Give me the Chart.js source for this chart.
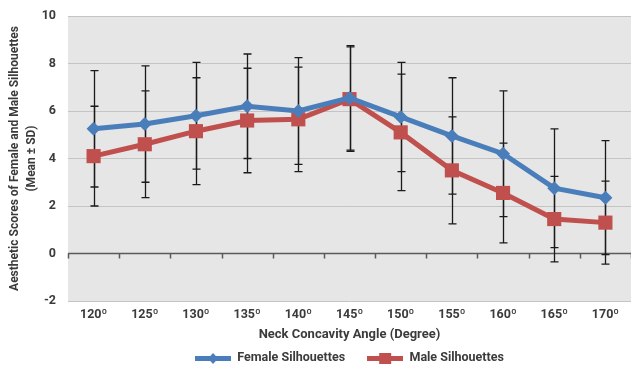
<!DOCTYPE html>
<html>
<head>
<meta charset="utf-8">
<script src="https://cdn.jsdelivr.net/npm/chart.js@4"></script>
<style>
  body { margin: 0; background: #fff; }
  #wrap { width: 631px; height: 366px; }
</style>
</head>
<body>
<div id="wrap"><canvas id="neckChart" width="631" height="366"></canvas></div>
<script>
// Data
const angles = ['120º', '125º', '130º', '135º', '140º', '145º', '150º', '155º', '160º', '165º', '170º'];
const femaleMean = [5.25, 5.45, 5.8, 6.2, 6.0, 6.55, 5.75, 4.95, 4.2, 2.75, 2.35];
const femaleSD = [2.45, 2.45, 2.25, 2.2, 2.25, 2.2, 2.3, 2.45, 2.65, 2.5, 2.4];
const maleMean = [4.1, 4.6, 5.15, 5.6, 5.65, 6.5, 5.1, 3.5, 2.55, 1.45, 1.3];
const maleSD = [2.1, 2.25, 2.25, 2.2, 2.2, 2.2, 2.45, 2.25, 2.1, 1.8, 1.75];
const yTicks = [-2, 0, 2, 4, 6, 8, 10];

const blue = '#4a7ebb';
const red = '#c0504d';
const textColor = '#3b3b3b';
const fontFamily = 'Roboto, "Open Sans", sans-serif';

// little line + marker images for the legend
function legendIcon(color, shape) {
    const c = document.createElement('canvas');
    c.width = 36;
    c.height = 14;
    const g = c.getContext('2d');
    g.fillStyle = color;
    g.fillRect(0, 5, 36, 5);
    if (shape === 'diamond') {
        g.beginPath();
        g.moveTo(18, 2);
        g.lineTo(23, 7.5);
        g.lineTo(18, 13);
        g.lineTo(13, 7.5);
        g.closePath();
        g.fill();
    } else {
        g.fillRect(12, 2, 12, 11);
    }
    return c;
}
const femaleIcon = legendIcon(blue, 'diamond');
const maleIcon = legendIcon(red, 'square');

// plot background, zero axis and error bars
const plotDecor = {
    id: 'plotDecor',
    beforeDraw(chart) {
        const { ctx, chartArea } = chart;
        ctx.save();
        ctx.fillStyle = '#e6e6e6';
        ctx.fillRect(chartArea.left, chartArea.top, chartArea.right - chartArea.left, chartArea.bottom - chartArea.top);
        ctx.restore();
    },
    beforeDatasetsDraw(chart) {
        const { ctx, chartArea, scales } = chart;
        const x = scales.x;
        const y = scales.y;
        const y0 = y.getPixelForValue(0);
        ctx.save();
        // zero line with category tick marks
        ctx.strokeStyle = '#5a5a5a';
        ctx.lineWidth = 1.5;
        ctx.beginPath();
        ctx.moveTo(chartArea.left, y0);
        ctx.lineTo(chartArea.right, y0);
        const band = (x.getPixelForValue(1) - x.getPixelForValue(0));
        for (let i = 0; i <= angles.length; i++) {
            const px = Math.round(x.getPixelForValue(0) - band / 2 + i * band) + 0.5;
            ctx.moveTo(px, y0);
            ctx.lineTo(px, y0 + 5);
        }
        ctx.stroke();

        // error bars (mean ± SD)
        ctx.strokeStyle = '#1a1a1a';
        ctx.lineWidth = 1.3;
        const groups = [[femaleMean, femaleSD], [maleMean, maleSD]];
        groups.forEach(([means, sds]) => {
            means.forEach((m, i) => {
                const px = Math.round(x.getPixelForValue(i)) + 0.5;
                const top = y.getPixelForValue(m + sds[i]);
                const bot = y.getPixelForValue(m - sds[i]);
                ctx.beginPath();
                ctx.moveTo(px, top);
                ctx.lineTo(px, bot);
                ctx.moveTo(px - 4, top);
                ctx.lineTo(px + 4, top);
                ctx.moveTo(px - 4, bot);
                ctx.lineTo(px + 4, bot);
                ctx.stroke();
            });
        });
        ctx.restore();
    }
};

const ctx = document.getElementById('neckChart').getContext('2d');

const neckChart = new Chart(ctx, {
    type: 'line',
    data: {
        labels: angles,
        datasets: [{
            label: 'Female Silhouettes',
            data: femaleMean,
            borderColor: blue,
            backgroundColor: blue,
            borderWidth: 5,
            pointStyle: 'rectRot',
            pointRadius: 7,
            pointBorderWidth: 0,
            tension: 0
        }, {
            label: 'Male Silhouettes',
            data: maleMean,
            borderColor: red,
            backgroundColor: red,
            borderWidth: 5,
            pointStyle: 'rect',
            pointRadius: 10,
            pointBorderWidth: 0,
            tension: 0
        }]
    },
    options: {
        responsive: false,
        animation: false,
        layout: {
            // no extra room for the markers, the plot runs to the right edge
            autoPadding: false,
            // negative bottom pushes the legend's empty padding off the canvas
            padding: { top: 16, right: 0, left: 0, bottom: -8.25 }
        },
        scales: {
            x: {
                offset: true,
                grid: { display: false },
                border: { display: false },
                ticks: {
                    color: textColor,
                    padding: -2,
                    maxRotation: 0,
                    font: { family: fontFamily, size: 12.5, weight: 'bold' }
                },
                title: {
                    display: true,
                    text: 'Neck Concavity Angle (Degree)',
                    color: textColor,
                    padding: { top: 0, bottom: -12.75 },
                    font: { family: fontFamily, size: 13, weight: 'bold', lineHeight: 1.15 }
                },
                afterFit(scale) {
                    scale.height = 28.75;
                    scale.paddingLeft = 0;
                    scale.paddingRight = 0;
                }
            },
            y: {
                min: -2,
                max: 10,
                afterBuildTicks(scale) {
                    scale.ticks = yTicks.map(v => ({ value: v }));
                },
                grid: {
                    color: '#c4c4c4',
                    lineWidth: 1,
                    drawTicks: false
                },
                border: { display: false },
                ticks: {
                    color: textColor,
                    padding: 12,
                    font: { family: fontFamily, size: 12.5, weight: 'bold' }
                },
                title: {
                    display: true,
                    text: ['Aesthetic Scores of Female and Male Silhouettes', '(Mean ± SD)'],
                    color: textColor,
                    padding: { top: 6, bottom: 0 },
                    font: { family: fontFamily, size: 12, weight: 'bold', lineHeight: 1.45 }
                },
                afterFit(scale) {
                    scale.width = 68;
                    scale.paddingTop = 0;
                    scale.paddingBottom = 0;
                }
            }
        },
        plugins: {
            legend: {
                position: 'bottom',
                fullSize: false,
                labels: {
                    color: textColor,
                    usePointStyle: true,
                    pointStyleWidth: 36,
                    padding: 22,
                    font: { family: fontFamily, size: 12.5, weight: 'bold' },
                    generateLabels(chart) {
                        return chart.data.datasets.map((ds, i) => ({
                            text: ds.label,
                            fillStyle: ds.borderColor,
                            strokeStyle: ds.borderColor,
                            lineWidth: 0,
                            pointStyle: i === 0 ? femaleIcon : maleIcon,
                            fontColor: textColor,
                            datasetIndex: i
                        }));
                    }
                }
            },
            tooltip: { enabled: false }
        }
    },
    plugins: [plotDecor]
});
</script>
</body>
</html>
